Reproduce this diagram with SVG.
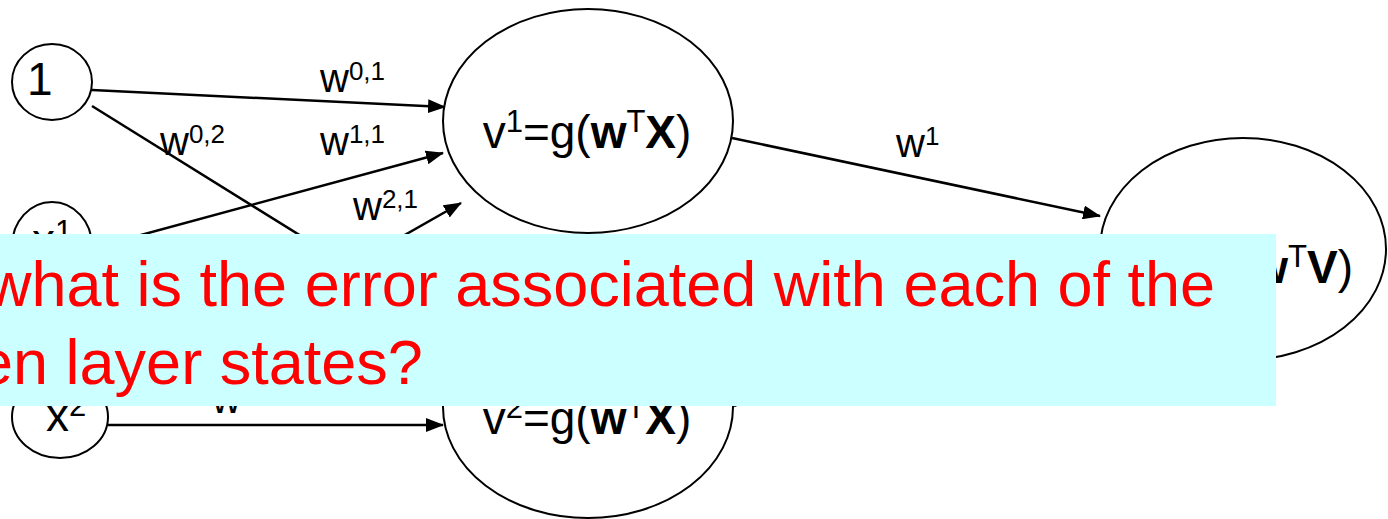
<svg xmlns="http://www.w3.org/2000/svg" width="1388" height="519" viewBox="0 0 1388 519">
<style>
.nd{fill:#fff;stroke:#000;stroke-width:2}
.cn line{stroke:#000;stroke-width:2.5;marker-end:url(#ah)}
text{font-family:"Liberation Sans",Arial,Helvetica,sans-serif;fill:#000}
.nt{font-size:46px}
.lb{font-size:40px}
.s1{font-size:31px}
.s2{font-size:26px}
.b{font-weight:bold}
.q{font-size:63px;fill:#FF0000}
</style>
<defs>
<marker id="ah" viewBox="0 0 18 14" refX="17" refY="7" markerWidth="18" markerHeight="14" markerUnits="userSpaceOnUse" orient="auto">
<path d="M0,0 L18,7 L0,14 z" fill="#000"/>
</marker>
</defs>
<g id="connectors" class="cn">
<line x1="92" y1="90" x2="445" y2="107"/>
<line x1="92" y1="106" x2="470" y2="341"/>
<line x1="93" y1="248" x2="443" y2="153"/>
<line x1="106" y1="405" x2="461" y2="203"/>
<line x1="108" y1="425" x2="443" y2="425"/>
<line x1="732" y1="138" x2="1100" y2="216"/>
<line x1="734" y1="406" x2="1100" y2="240"/>
</g>
<g id="labels">
<text class="lb" x="320" y="92">w<tspan class="s2" dy="-12">0,1</tspan></text>
<text class="lb" x="160" y="155">w<tspan class="s2" dy="-12">0,2</tspan></text>
<text class="lb" x="320" y="155">w<tspan class="s2" dy="-12">1,1</tspan></text>
<text class="lb" x="353" y="220">w<tspan class="s2" dy="-12">2,1</tspan></text>
<text class="lb" x="896" y="157">w<tspan class="s2" dy="-12">1</tspan></text>
<text class="lb" x="212" y="413">w</text>
</g>
<g id="node-1">
<ellipse class="nd" cx="52" cy="82" rx="40" ry="38"/>
<text class="nt" x="27" y="95">1</text>
</g>
<g id="node-x1">
<ellipse class="nd" cx="52" cy="246" rx="40" ry="44"/>
<text class="nt" x="32" y="256">x<tspan class="s1" dy="-14">1</tspan></text>
</g>
<g id="node-x2">
<ellipse class="nd" cx="60" cy="417" rx="48" ry="41"/>
<text class="nt" x="46" y="431">x<tspan class="s1" dy="-15">2</tspan></text>
</g>
<g id="node-v1">
<ellipse class="nd" cx="588" cy="121" rx="145" ry="112"/>
<text class="nt" x="587" y="148" text-anchor="middle">v<tspan class="s1" dy="-16">1</tspan><tspan dy="16">=g(</tspan><tspan class="b">w</tspan><tspan class="s1" dy="-16">T</tspan><tspan class="b" dy="16">X</tspan>)</text>
</g>
<g id="node-v2">
<ellipse class="nd" cx="588" cy="407" rx="145" ry="111"/>
<text class="nt" x="587" y="434" text-anchor="middle">v<tspan class="s1" dy="-16">2</tspan><tspan dy="16">=g(</tspan><tspan class="b">w</tspan><tspan class="s1" dy="-16">T</tspan><tspan class="b" dy="16">X</tspan>)</text>
</g>
<g id="node-out">
<ellipse class="nd" cx="1243" cy="249" rx="143" ry="111"/>
<text class="nt" x="1353" y="283" text-anchor="end"><tspan class="b">w</tspan><tspan class="s1" dy="-16">T</tspan><tspan class="b" dy="16">V</tspan>)</text>
</g>
<g id="callout">
<rect x="0" y="234" width="1276" height="172" fill="#CCFFFF"/>
<text class="q" x="-14" y="306">what is the error associated with each of the</text>
<text class="q" x="-22" y="384">en layer states?</text>
</g>
</svg>
